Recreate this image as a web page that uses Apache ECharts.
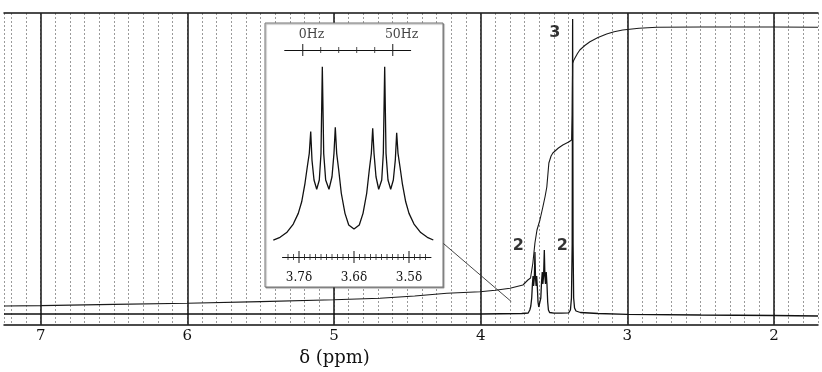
<!DOCTYPE html>
<html><head><meta charset="utf-8">
<script src="https://cdn.jsdelivr.net/npm/echarts@6/dist/echarts.min.js"></script>
<style>html,body{margin:0;padding:0;background:#fff}#c{width:822px;height:372px}</style>
</head><body><div id="c"></div>
<script>
// ---- main axis ----
const mainTickLabels = [7, 6, 5, 4, 3, 2];

// ---- main spectrum (ppm, intensity) ----
const spectrumPpm = [7.25, 4.00, 3.72, 3.676, 3.665, 3.658, 3.652, 3.647, 3.643, 3.639, 3.634, 3.630, 3.626, 3.622, 3.618, 3.614, 3.609, 3.604, 3.600, 3.595, 3.590, 3.585, 3.580, 3.576, 3.571, 3.566, 3.562, 3.558, 3.553, 3.548, 3.543, 3.538, 3.530, 3.50, 3.45, 3.40, 3.388, 3.381, 3.376, 3.373, 3.370, 3.366, 3.360, 3.350, 3.320, 3.20, 3.00, 2.50, 2.00, 1.70];
const spectrumIntensity = [0, 0, 0.5, 1, 4, 8, 16, 30, 38, 28, 36, 62, 36, 28, 38, 28, 12, 7, 6, 8, 16, 32, 42, 30, 38, 64, 38, 30, 42, 30, 12, 4, 1.5, 0.8, 0.8, 1.2, 4, 16, 70, 295, 70, 16, 6, 3, 1.5, 0.5, -0.3, -1, -1.5, -2];

// ---- integral trace ----
const integralPpm = [7.25, 7.00, 6.50, 6.00, 5.50, 5.00, 4.687, 4.45, 4.23, 4.005, 3.90, 3.80, 3.712, 3.678, 3.660, 3.651, 3.644, 3.630, 3.616, 3.596, 3.576, 3.560, 3.549, 3.535, 3.52, 3.508, 3.47, 3.440, 3.40, 3.380, 3.376, 3.373, 3.366, 3.358, 3.340, 3.324, 3.29, 3.255, 3.20, 3.141, 3.09, 3.032, 2.92, 2.80, 2.50, 2.00, 1.70];
const integralValue = [8, 8.4, 9.6, 10.8, 12.4, 14.2, 15.7, 18, 20.7, 22.3, 23.8, 25.7, 29, 34, 36, 38, 51, 71, 84, 94, 107, 118, 127, 151, 158, 161, 166, 169, 172, 174, 200, 250.7, 253.5, 255.7, 260.5, 264, 268.5, 272.3, 276.5, 280, 282.3, 284, 285.8, 286.7, 287, 287, 286.8];

// ---- connector from inset to multiplets ----
const connectorPpm = [4.2554, 3.7916];
const connectorValue = [70.7, 12.5];

// ---- integration labels ----
const integrationText = ['2', '2', '3'];
const integrationPpm = [3.744, 3.443, 3.494];
const integrationHeight = [68.2, 68.2, 281.5];

// ---- inset expanded spectrum ----
const insetPpm = [3.7467, 3.7345, 3.7224, 3.7104, 3.7013, 3.6951, 3.6891, 3.6849, 3.6813, 3.6787, 3.6764, 3.6727, 3.6678, 3.6631, 3.6600, 3.6576, 3.6551, 3.6515, 3.6455, 3.6400, 3.6364, 3.6340, 3.6315, 3.6278, 3.6231, 3.6164, 3.6096, 3.6000, 3.5904, 3.5836, 3.5769, 3.5722, 3.5685, 3.5660, 3.5636, 3.5600, 3.5551, 3.5496, 3.5467, 3.5442, 3.5418, 3.5382, 3.5333, 3.5285, 3.5249, 3.5224, 3.5200, 3.5164, 3.5122, 3.5060, 3.5000, 3.4909, 3.4787, 3.4667, 3.4558];
const insetIntensity = [4.4, 5.9, 8.5, 13.2, 19.1, 25.5, 35.7, 44.8, 52.2, 64.2, 48.5, 37.5, 32.4, 37.5, 52.2, 100, 52.2, 37.5, 32.4, 39.3, 52.2, 66.6, 52.2, 43, 30.2, 19.1, 12.7, 10.5, 12.7, 19.1, 30.2, 43, 52.2, 66, 52.2, 39.3, 32.4, 37.5, 52.2, 100, 52.2, 37.5, 32.4, 37.5, 48.5, 63.6, 52.2, 44.8, 35.7, 25.5, 19.1, 13.2, 8.5, 5.9, 4.4];

// ---- inset scales ----
const insetPpmMajorTicks = [3.7, 3.6, 3.5];
const insetPpmMinorTicks = [3.72, 3.71, 3.69, 3.68, 3.67, 3.66, 3.65, 3.64, 3.63, 3.62, 3.61, 3.59, 3.58, 3.57, 3.56, 3.55, 3.54, 3.53, 3.52, 3.51, 3.49, 3.48, 3.47];
const insetHzMajorTicks = [0, 50];
const insetHzMinorTicks = [10, 20, 30, 40];

const zip = (a, b) => a.map((v, i) => [v, b[i]]);
const INK = '#111';

const chart = echarts.init(document.getElementById('c'));
chart.setOption({
  animation: false,
  backgroundColor: '#fff',
  grid: [
    { left: 4, right: 4, top: 13, bottom: 47 },
    { left: 271.5, right: 385.5, top: 66.7, bottom: 124 },
    { left: 282.5, right: 391, top: 247, bottom: 105 },
    { left: 284.7, right: 411.3, top: 40, bottom: 312 }
  ],
  xAxis: [
    {
      gridIndex: 0, type: 'value', min: 1.7, max: 7.25, inverse: true, interval: 0.1, position: 'bottom',
      axisLine: { onZero: false, lineStyle: { color: INK, width: 1.5 } },
      axisTick: { show: false },
      axisLabel: {
        margin: 4, color: INK, fontFamily: 'DejaVu Serif', fontSize: 15,
        formatter: v => { const r = Math.round(v); return (Math.abs(v - r) < 1e-6 && mainTickLabels.indexOf(r) >= 0) ? String(r) : ''; }
      },
      splitLine: { show: true, lineStyle: { color: '#9a9a9a', width: 1, type: [2, 2] } },
      name: 'δ (ppm)', nameLocation: 'middle', nameGap: 24,
      nameTextStyle: { color: INK, fontFamily: 'DejaVu Serif', fontSize: 18, padding: [0, 153, 0, 0] }
    },
    {
      gridIndex: 0, type: 'value', min: 1.7, max: 7.25, inverse: true, position: 'top',
      axisLine: { onZero: false, lineStyle: { color: INK, width: 1.5 } },
      axisTick: { show: false }, axisLabel: { show: false }, splitLine: { show: false }
    },
    { gridIndex: 1, type: 'value', min: 3.45, max: 3.75, inverse: true, show: false },
    {
      gridIndex: 2, type: 'value', min: 3.46, max: 3.73, inverse: true, interval: 0.01, z: 12,
      axisLine: { onZero: true, lineStyle: { color: INK, width: 1 } },
      axisTick: { show: false }, splitLine: { show: false },
      axisLabel: {
        margin: 5, color: INK, fontFamily: 'DejaVu Serif', fontSize: 12,
        formatter: v => { const hit = insetPpmMajorTicks.find(t => Math.abs(t - v) < 1e-6); return hit !== undefined ? hit.toFixed(1) + 'δ' : ''; }
      }
    },
    {
      gridIndex: 3, type: 'value', min: -10, max: 60, interval: 10, z: 12,
      axisLine: { onZero: true, lineStyle: { color: INK, width: 1 } },
      axisTick: { show: false }, axisLabel: { show: false }, splitLine: { show: false }
    }
  ],
  yAxis: [
    { gridIndex: 0, type: 'value', min: -11, max: 301, show: false },
    { gridIndex: 1, type: 'value', min: 0, max: 100, show: false },
    { gridIndex: 2, type: 'value', min: -1, max: 1, show: false },
    { gridIndex: 3, type: 'value', min: -1, max: 1, show: false }
  ],
  graphic: [{
    type: 'rect', z: 8, silent: true,
    shape: { x: 265, y: 23, width: 178, height: 264 },
    style: { fill: '#fff', stroke: '#777', lineWidth: 1, shadowColor: 'rgba(0,0,0,0.35)', shadowOffsetX: 1, shadowOffsetY: 1, shadowBlur: 1 }
  }],
  series: [
    {
      type: 'line', xAxisIndex: 0, yAxisIndex: 0, z: 3, showSymbol: false,
      data: zip(spectrumPpm, spectrumIntensity),
      lineStyle: { color: INK, width: 1.3 },
      markLine: {
        z: 1, silent: true, symbol: ['none', 'none'], label: { show: false },
        lineStyle: { color: '#222', width: 1.6, type: 'solid' },
        data: mainTickLabels.map(v => ({ xAxis: v }))
      }
    },
    {
      type: 'line', xAxisIndex: 0, yAxisIndex: 0, z: 3, showSymbol: false,
      data: zip(integralPpm, integralValue),
      lineStyle: { color: '#1a1a1a', width: 1.1 }
    },
    {
      type: 'line', xAxisIndex: 0, yAxisIndex: 0, z: 3, showSymbol: false,
      data: zip(connectorPpm, connectorValue),
      lineStyle: { color: '#333', width: 0.9 }
    },
    {
      type: 'scatter', xAxisIndex: 0, yAxisIndex: 0, z: 4, symbolSize: 0,
      data: integrationText.map((t, i) => ({ name: t, value: [integrationPpm[i], integrationHeight[i]] })),
      label: { show: true, position: 'inside', formatter: p => p.name, color: '#000', fontFamily: 'DejaVu Sans', fontWeight: 'bold', fontSize: 16 }
    },
    {
      type: 'line', xAxisIndex: 2, yAxisIndex: 1, z: 12, showSymbol: false,
      data: zip(insetPpm, insetIntensity),
      lineStyle: { color: INK, width: 1.3 }
    },
    {
      type: 'scatter', xAxisIndex: 3, yAxisIndex: 2, z: 12, symbol: 'rect', symbolSize: [1.3, 12],
      itemStyle: { color: '#222' }, data: insetPpmMajorTicks.map(v => [v, 0])
    },
    {
      type: 'scatter', xAxisIndex: 3, yAxisIndex: 2, z: 12, symbol: 'rect', symbolSize: [1, 6],
      itemStyle: { color: '#222' }, data: insetPpmMinorTicks.map(v => [v, 0])
    },
    {
      type: 'scatter', xAxisIndex: 4, yAxisIndex: 3, z: 12, symbol: 'rect', symbolSize: [1.3, 12],
      itemStyle: { color: '#222' },
      data: insetHzMajorTicks.map(v => ({ value: [v, 0], label: { offset: [-String(v).length * 3.9, 0] } })),
      label: { show: true, position: 'top', distance: 3, align: 'left', formatter: p => p.value[0] + 'Hz', color: INK, fontFamily: 'DejaVu Serif', fontSize: 12.5 }
    },
    {
      type: 'scatter', xAxisIndex: 4, yAxisIndex: 3, z: 12, symbol: 'rect', symbolSize: [1, 6],
      itemStyle: { color: '#222' }, data: insetHzMinorTicks.map(v => [v, 0])
    }
  ]
});
</script>
</body></html>
